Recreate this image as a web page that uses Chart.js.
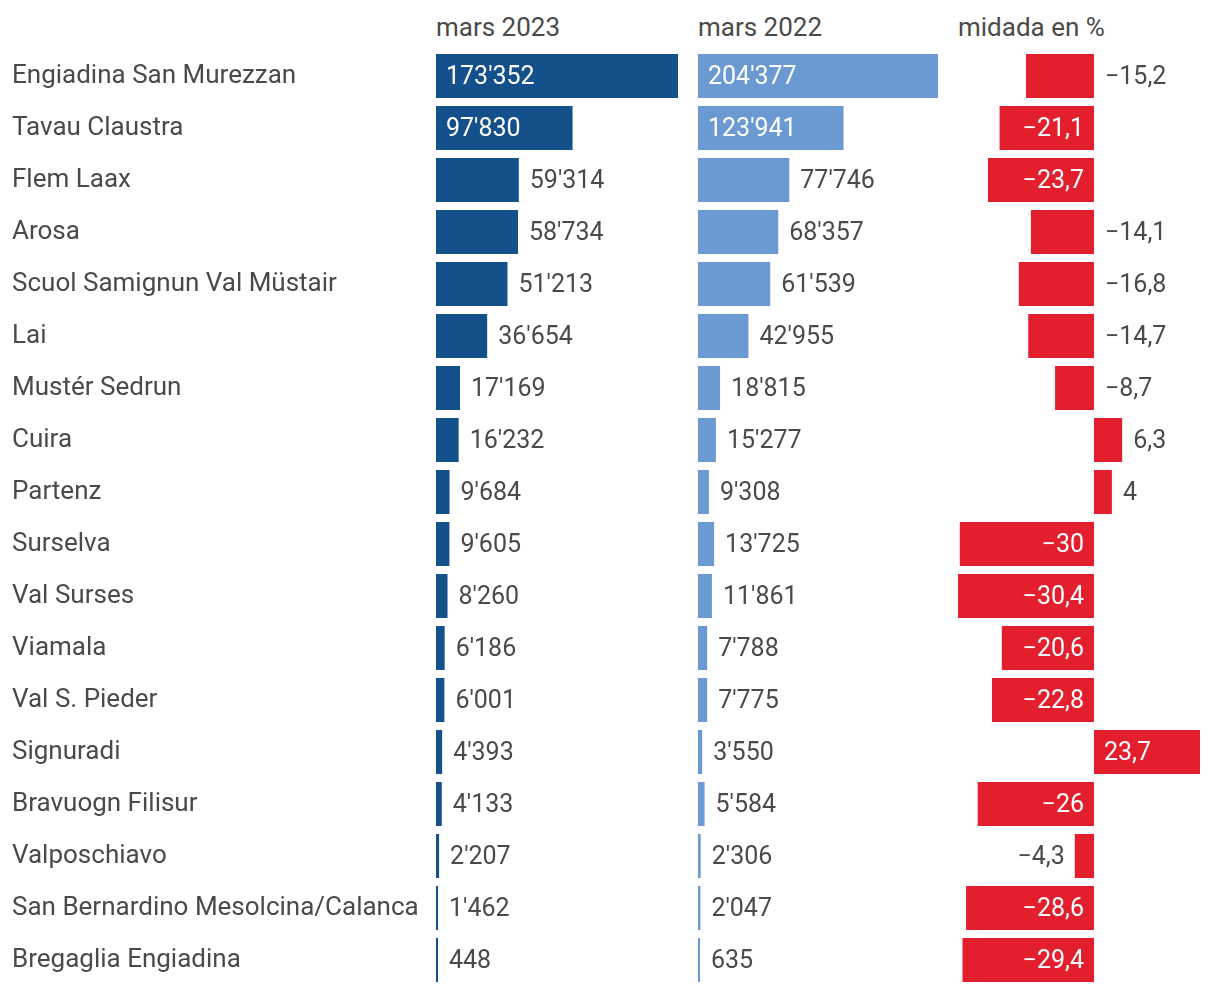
<!DOCTYPE html>
<html lang="rm">
<head>
  <meta charset="UTF-8">
  <title>Pernottaziuns mars</title>
  <script src="https://cdn.jsdelivr.net/npm/chart.js"></script>
  <style>
    body { margin: 0; background: #fff; }
    #wrap { position: relative; width: 1220px; height: 992px; font-family: Roboto, sans-serif; color: #4a4a48; }
    #wrap canvas { position: absolute; top: 50px; }
    .head { position: absolute; top: 10px; font-size: 26px; line-height: 34px; white-space: nowrap; }
  </style>
</head>
<body>
<div id="wrap">
  <div class="head" style="left:436px">mars 2023</div>
  <div class="head" style="left:698px">mars 2022</div>
  <div class="head" style="left:958px">midada en %</div>
  <canvas id="chart2023" width="680" height="936" style="left:0"></canvas>
  <canvas id="chart2022" width="260" height="936" style="left:690px"></canvas>
  <canvas id="chartDiff" width="270" height="936" style="left:950px"></canvas>
</div>

<script>
  // data
  var regions = ['Engiadina San Murezzan', 'Tavau Claustra', 'Flem Laax', 'Arosa',
    'Scuol Samignun Val Müstair', 'Lai', 'Mustér Sedrun', 'Cuira', 'Partenz', 'Surselva',
    'Val Surses', 'Viamala', 'Val S. Pieder', 'Signuradi', 'Bravuogn Filisur',
    'Valposchiavo', 'San Bernardino Mesolcina/Calanca', 'Bregaglia Engiadina'];
  var mars2023 = [173352, 97830, 59314, 58734, 51213, 36654, 17169, 16232, 9684, 9605,
    8260, 6186, 6001, 4393, 4133, 2207, 1462, 448];
  var mars2022 = [204377, 123941, 77746, 68357, 61539, 42955, 18815, 15277, 9308, 13725,
    11861, 7788, 7775, 3550, 5584, 2306, 2047, 635];
  var midada = [-15.2, -21.1, -23.7, -14.1, -16.8, -14.7, -8.7, 6.3, 4, -30,
    -30.4, -20.6, -22.8, 23.7, -26, -4.3, -28.6, -29.4];

  var TEXT = '#4a4a48';
  var FONT = '25px Roboto, sans-serif';

  function fmtThousands(n) {
    return String(n).replace(/\B(?=(\d{3})+(?!\d))/g, "'");
  }
  function fmtPct(v) {
    return String(v).replace('.', ',').replace('-', '\u2212');
  }

  // labels inside the bar when they fit, otherwise next to it
  var valueLabels = {
    id: 'valueLabels',
    afterDatasetsDraw: function(chart, args, opts) {
      var ctx = chart.ctx;
      var values = chart.data.datasets[0].data;
      var zero = chart.scales.x.getPixelForValue(0);
      ctx.save();
      ctx.font = FONT;
      ctx.textBaseline = 'middle';
      chart.getDatasetMeta(0).data.forEach(function(bar, i) {
        var v = values[i];
        var text = opts.format(v);
        var w = ctx.measureText(text).width;
        var len = Math.abs(bar.x - bar.base);
        var y = bar.y + 2;
        if (len >= w + 24) {
          ctx.fillStyle = '#fff';
          if (v >= 0) { ctx.textAlign = 'left'; ctx.fillText(text, zero + 10, y); }
          else { ctx.textAlign = 'right'; ctx.fillText(text, zero - 10, y); }
        } else {
          ctx.fillStyle = TEXT;
          if (v >= 0) { ctx.textAlign = 'left'; ctx.fillText(text, bar.x + 11, y); }
          else if (v > -5) { ctx.textAlign = 'right'; ctx.fillText(text, bar.x - 10, y); }
          else { ctx.textAlign = 'left'; ctx.fillText(text, zero + 11, y); }
        }
      });
      ctx.restore();
    }
  };

  function makeChart(id, values, color, fmt, padding, showLabels) {
    var ctx = document.getElementById(id).getContext('2d');
    return new Chart(ctx, {
      type: 'bar',
      data: {
        labels: regions,
        datasets: [{
          data: values,
          backgroundColor: color,
          categoryPercentage: 1,
          barPercentage: 44 / 52,
          minBarLength: 2
        }]
      },
      options: {
        indexAxis: 'y',
        responsive: false,
        animation: false,
        layout: { padding: padding },
        scales: {
          x: {
            display: false,
            min: Math.min(0, Math.min.apply(null, values)),
            max: Math.max.apply(null, values)
          },
          y: {
            display: showLabels,
            grid: { display: false },
            border: { display: false },
            afterFit: function(s) {
              if (!showLabels) return;
              s.width = 424;
              s.paddingTop = 0;
              s.paddingBottom = 0;
            },
            ticks: {
              autoSkip: false,
              crossAlign: 'far',
              padding: 0,
              color: TEXT,
              font: { family: 'Roboto, sans-serif', size: 26 }
            }
          }
        },
        plugins: {
          legend: { display: false },
          tooltip: { enabled: false },
          valueLabels: { format: fmt }
        }
      },
      plugins: [valueLabels]
    });
  }

  makeChart('chart2023', mars2023, '#14508a', fmtThousands, { left: 12, right: 2, top: 0, bottom: 0 }, true);
  makeChart('chart2022', mars2022, '#6b9ad3', fmtThousands, { left: 8, right: 12, top: 0, bottom: 0 }, false);
  makeChart('chartDiff', midada, '#e31e2d', fmtPct, { left: 8, right: 20, top: 0, bottom: 0 }, false);
</script>
</body>
</html>
